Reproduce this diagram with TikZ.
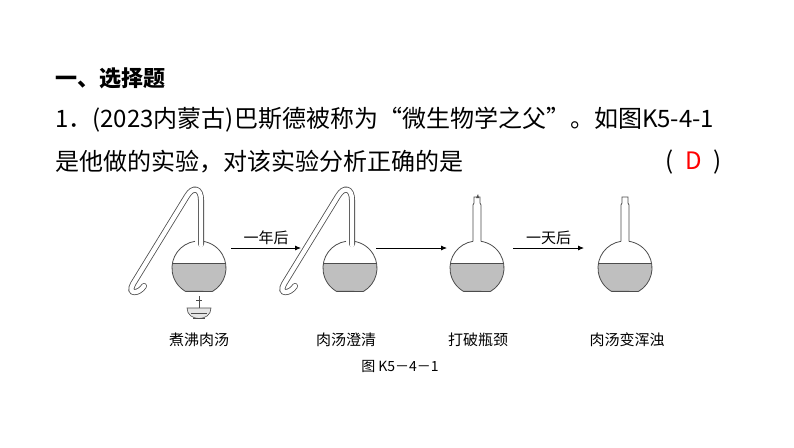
\documentclass[tikz,border=0pt]{standalone}
\usepackage{fontspec}
\setmainfont{Noto Sans CJK SC}
\usetikzlibrary{arrows.meta}
\definecolor{broth}{gray}{0.75}
\definecolor{glass}{gray}{0.3}
\tikzset{
  flaskline/.style={draw=glass, line width=0.8pt},
  stepline/.style={-{Latex[length=6pt,width=5pt]}, line width=0.8pt},
  lab/.style={font=\fontsize{15}{15}\selectfont},
  qtext/.style={anchor=west, font=\fontsize{24}{24}\selectfont, inner sep=0pt}
}
% bulb with broth, centred at the given point
\newcommand{\bulb}[1]{%
  \begin{scope}[shift={#1}]
    \fill[broth] (-26.5,-5) arc (190.7:120:27) -- (13.5,23.4) arc (60:-10.7:27) -- cycle;
    \draw[flaskline] (-4,-26.7) arc (-98.5:-240:27) -- (13.5,23.4) arc (60:-81.5:27);
    \draw[flaskline] (-26.5,-5) -- (26.5,-5);
  \end{scope}}
\begin{document}
\begin{tikzpicture}[x=1pt,y=-1pt]
\useasboundingbox[fill=white] (0,0) rectangle (794,447);
% question text
\node[qtext, font=\fontsize{22}{22}\selectfont\bfseries] (title) at (55,78) {一、选择题};
\node[qtext] (q1) at (55,120) {1．(2023内蒙古)巴斯德被称为“微生物学之父”。如图K5-4-1};
\node[qtext] (q2) at (55,162) {是他做的实验，对该实验分析正确的是};
\node[qtext] (ans) at (665,162) {(\hspace{12pt}\textcolor{red}{D}\hspace{12pt})};

% flask 1 and 2: swan neck
\foreach \cx/\nm in {199/f1, 350/f2} {
  \bulb{(\cx,268)}
  \coordinate (\nm) at (\cx,268);
  \draw[glass, line width=6pt, line cap=round] (\cx+2,244) -- (\cx+2,200)
     .. controls (\cx+2,188) and (\cx-6,186) .. (\cx-12,196)
     -- (\cx-66,284) .. controls (\cx-72,295) and (\cx-60,294) .. (\cx-55,286);
  \draw[white, line width=4.4pt, line cap=round] (\cx+2,245) -- (\cx+2,200)
     .. controls (\cx+2,188) and (\cx-6,186) .. (\cx-12,196)
     -- (\cx-66,284) .. controls (\cx-72,295) and (\cx-60,294) .. (\cx-55,286);
}
% flask 3 and 4: straight neck
\foreach \cx/\nm in {477/f3, 625/f4} {
  \bulb{(\cx,268)}
  \coordinate (\nm) at (\cx,268);
  \draw[flaskline] (\cx-4,241.3) -- (\cx-4,205) -- (\cx-3,203) -- (\cx-3,197) -- (\cx+3,197) -- (\cx+3,203) -- (\cx+4,205) -- (\cx+4,241.3);
}
\fill[glass] (476,198) -- (478,194) -- (479,198) -- cycle;
% burner
\draw[flaskline, line width=0.6pt] (199,296) -- (199,312) (196,300) -- (202,300);
\draw[flaskline, line width=0.6pt, fill=broth!40] (187,308) .. controls (187,322) and (211,322) .. (211,308) -- cycle;
\draw[flaskline, line width=0.6pt] (191,313) -- (207,313) (193,318) -- (205,318);

% arrows
\draw[stepline] (231,248) -- node[above, lab] (l1) {一年后} (301,248);
\draw[stepline] (376,248) -- (447,248);
\draw[stepline] (513,248) -- node[above, lab] (l3) {一天后} (584,248);

% labels
\node[lab] (c1) at (199,340) {煮沸肉汤};
\node[lab] (c2) at (346,340) {肉汤澄清};
\node[lab] (c3) at (478,340) {打破瓶颈};
\node[lab] (c4) at (627,340) {肉汤变浑浊};
\node[font=\fontsize{14}{14}\selectfont] (cap) at (400,366) {图 K5－4－1};
\end{tikzpicture}
\end{document}
